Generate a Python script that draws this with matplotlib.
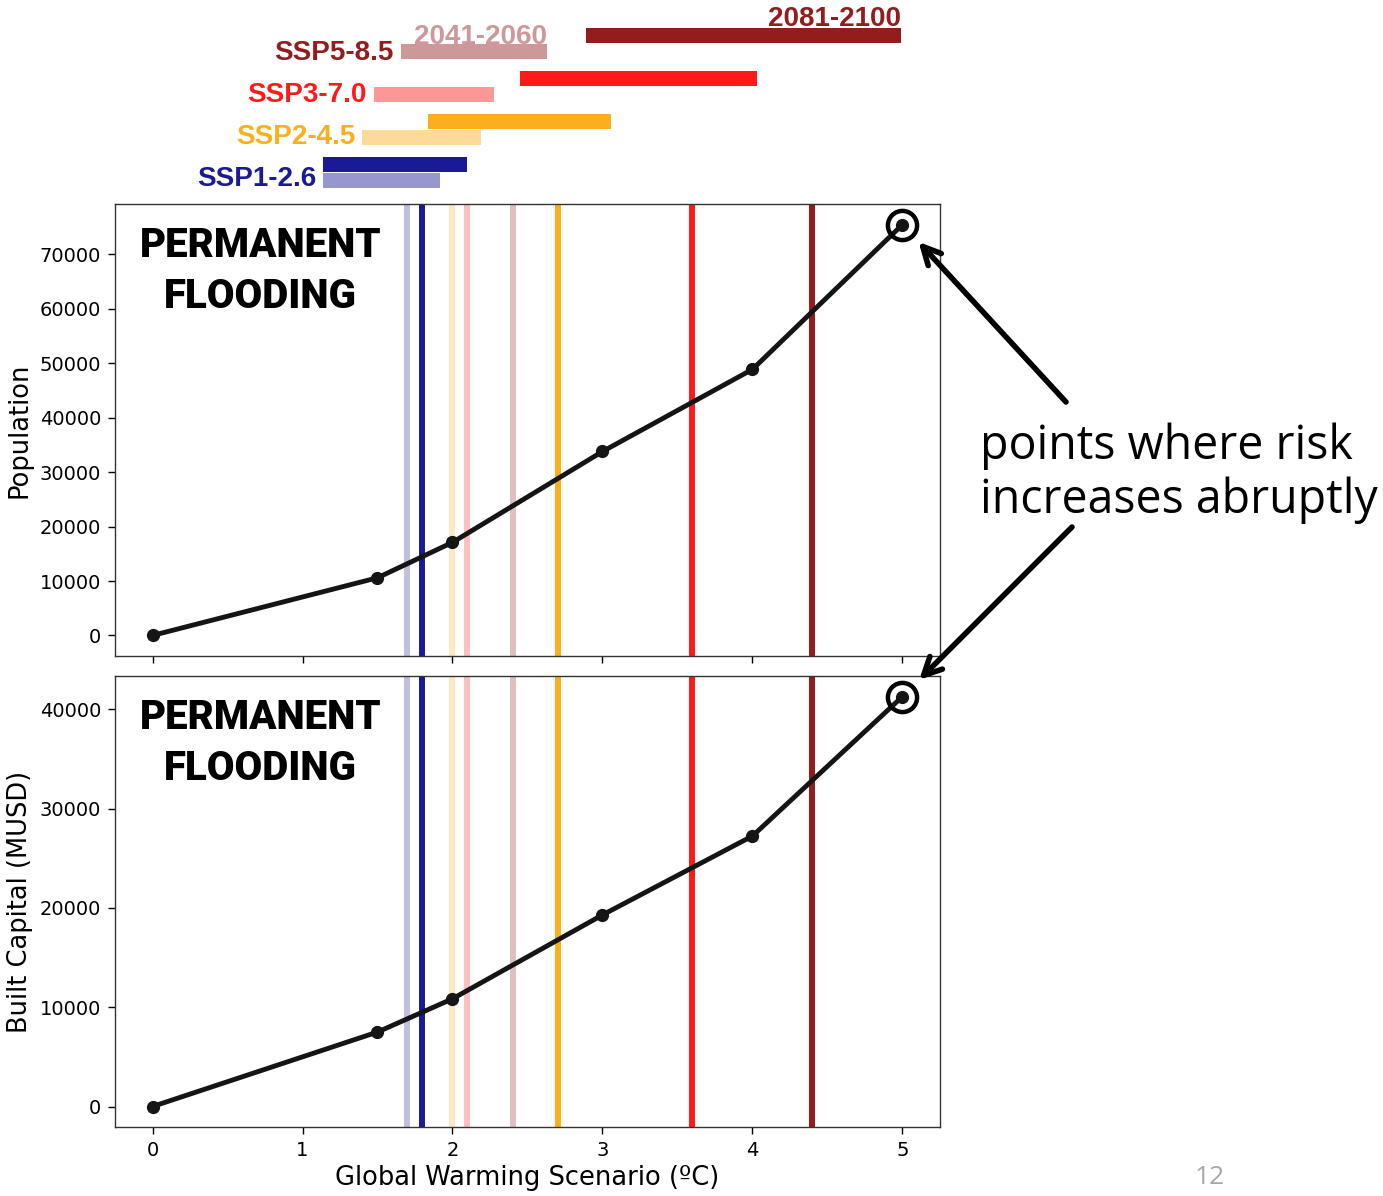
import matplotlib
matplotlib.use("Agg")
import matplotlib.pyplot as plt
import numpy as np

# warming levels (degC) and impacts
warming = [0, 1.5, 2, 3, 4, 5]
population = [0, 10600, 17100, 33800, 48900, 75500]
built_capital = [0, 7500, 10850, 19300, 27250, 41300]

# SSP scenarios: best estimates (vertical lines) and ranges (top bars)
scenarios = ["SSP1-2.6", "SSP2-4.5", "SSP3-7.0", "SSP5-8.5"]
colors = ["#1a1a96", "#fbaf1d", "#ff1a1a", "#931c1c"]
mid_best = [1.7, 2.0, 2.1, 2.4]       # 2041-2060
long_best = [1.8, 2.7, 3.6, 4.4]      # 2081-2100
mid_range = [(1.14, 1.92), (1.40, 2.19), (1.48, 2.28), (1.66, 2.63)]
long_range = [(1.14, 2.10), (1.84, 3.06), (2.45, 4.03), (2.89, 4.99)]

W, H = 1383, 1196
fig = plt.figure(figsize=(W / 100, H / 100), dpi=100)

ax1 = fig.add_axes([115 / W, 1 - 656 / H, 825 / W, 452 / H])
ax2 = fig.add_axes([115 / W, 1 - 1127 / H, 825 / W, 451 / H], sharex=ax1)
axb = fig.add_axes([115 / W, 1 - 200 / H, 825 / W, 200 / H], sharex=ax1)

light_alpha = 0.28
for ax, vals, ylabel in [(ax1, population, "Population"),
                         (ax2, built_capital, "Built Capital (MUSD)")]:
    for i in range(len(scenarios)):
        ax.axvline(mid_best[i], color=colors[i], alpha=light_alpha, lw=4.3, zorder=1)
        ax.axvline(long_best[i], color=colors[i], lw=4.3, zorder=1)
    ax.plot(warming, vals, color="#151515", lw=3.5, marker="o", ms=8.5, zorder=3)
    ax.plot(warming[-1], vals[-1], marker="o", ms=21, mfc="none", mec="black",
            mew=3.2, zorder=4)
    ax.set_ylabel(ylabel, fontsize=18.5, labelpad=5)
    ax.tick_params(labelsize=14, length=5, width=1, pad=5)
    for s in ax.spines.values():
        s.set_linewidth(1.0)
        s.set_color("#333333")
    ax.text(0.176, 0.852, "PERMANENT\nFLOODING", transform=ax.transAxes,
            ha="center", va="center", fontsize=29, fontweight="black",
            family="Roboto", linespacing=1.38)

ax1.set_yticks(np.arange(0, 70001, 10000))
ax2.set_yticks(np.arange(0, 40001, 10000))
ax1.tick_params(labelbottom=False)
ax2.set_xlabel("Global Warming Scenario (ºC)", fontsize=18.5, labelpad=4)
ax1.set_xlim(-0.25, 5.25)

# top panel with the scenario ranges
axb.axis("off")
axb.set_ylim(-20, 180)
row = 43
for i, name in enumerate(scenarios):
    y0 = i * row
    lo, hi = mid_range[i]
    axb.barh(y0, hi - lo, left=lo, height=15, color=colors[i], alpha=0.45)
    lo2, hi2 = long_range[i]
    axb.barh(y0 + 16, hi2 - lo2, left=lo2, height=15, color=colors[i])
    axb.text(lo - 0.05, y0 + 1 - i, name, ha="right", va="center", color=colors[i],
             fontsize=20, fontweight="bold", family="Liberation Sans")

top = len(scenarios) - 1
axb.text(mid_range[top][1], top * row + 7.5, "2041-2060", ha="right", va="baseline",
         color=colors[top], alpha=0.45, fontsize=20, fontweight="bold",
         family="Liberation Sans")
axb.text(long_range[top][1], top * row + 16 + 9, "2081-2100", ha="right",
         va="baseline", color=colors[top], fontsize=20, fontweight="bold",
         family="Liberation Sans")

# annotation
fig.text(980 / W, 1 - 473 / H, "points where risk\nincreases abruptly",
         ha="left", va="center", fontsize=33.5, family="Open Sans", linespacing=1.17)
arrow = dict(arrowstyle="->", lw=4, color="black", shrinkA=0, shrinkB=17,
             mutation_scale=32)
ax1.annotate("", xy=(warming[-1], population[-1]), xytext=(1066, H - 402),
             textcoords="figure pixels", arrowprops=arrow, annotation_clip=False)
ax2.annotate("", xy=(warming[-1], built_capital[-1]), xytext=(1072, H - 527),
             textcoords="figure pixels", arrowprops=arrow, annotation_clip=False)

fig.text(1210 / W, 1 - 1177 / H, "12", ha="center", va="center", fontsize=19,
         color="#a6a6a6", family="Open Sans")

fig.savefig("out.png", dpi=100)
